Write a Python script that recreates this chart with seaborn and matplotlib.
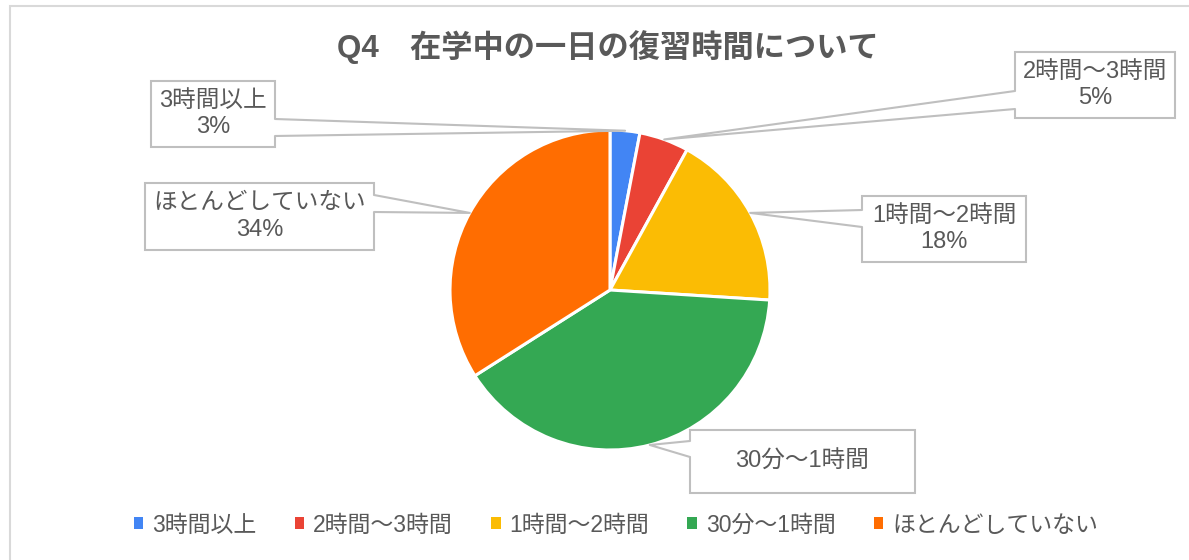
import matplotlib
matplotlib.use("Agg")
import numpy as np
import seaborn as sns
import matplotlib.pyplot as plt
from matplotlib.patches import Rectangle, Patch

sns.set_theme(style="white")
plt.rcParams['font.family'] = ['Liberation Sans', 'Noto Sans CJK JP', 'DejaVu Sans']

# data
categories = ['3時間以上', '2時間～3時間', '1時間～2時間', '30分～1時間', 'ほとんどしていない']
values = [3, 5, 18, 40, 34]
label_texts = ['3時間以上\n3%', '2時間～3時間\n5%', '1時間～2時間\n18%', '30分～1時間', 'ほとんどしていない\n34%']
colors = ['#4285F4', '#EA4335', '#FBBC04', '#34A853', '#FF6D01']
title = 'Q4\u3000在学中の一日の復習時間について'

W, H = 1189, 560
TXT = '#595959'
EDGE = '#BFBFBF'

fig = plt.figure(figsize=(W / 100, H / 100), dpi=100)
ax = fig.add_axes([0, 0, 1, 1])

def Y(y):
    return H - y

cx, cy, r = 610, 290, 160
wedges, _ = ax.pie(values, colors=colors, startangle=90, counterclock=False,
                   center=(cx, Y(cy)), radius=r, frame=True,
                   wedgeprops=dict(edgecolor='white', linewidth=2.2))
ax.set_xlim(0, W)
ax.set_ylim(0, H)
ax.set_aspect('auto')
ax.axis('off')

# outer chart frame
ax.add_patch(Rectangle((10, Y(H + 20)), W + 20, H + 14, fill=False, ec='#D9D9D9', lw=1.5, zorder=0))

# callout boxes: (left, top, right, bottom), pointer base side and y range
boxes = [
    ((151, 81, 275, 147), 'right', (119, 136)),
    ((1015, 52, 1175, 118), 'left', (91, 109)),
    ((862, 196, 1026, 262), 'left', (210, 227)),
    ((690, 430, 915, 493), 'left', (441, 457)),
    ((145, 183, 374, 250), 'right', (195, 212)),
]

cum = np.cumsum([0] + values)
total = sum(values)
for i, ((l, t, rr, b), side, (b1, b2)) in enumerate(boxes):
    mid = (cum[i] + cum[i + 1]) / 2 / total * 2 * np.pi
    tx = cx + r * np.sin(mid)
    ty = cy - r * np.cos(mid)
    ax.add_patch(Rectangle((l, Y(b)), rr - l, b - t, fc='white', ec=EDGE, lw=1.5, zorder=3))
    ex = rr if side == 'right' else l
    inner = ex - 2 if side == 'right' else ex + 2
    ax.fill([inner, tx, inner], [Y(b1), Y(ty), Y(b2)], color='white', zorder=4, lw=0)
    ax.plot([ex, tx, ex], [Y(b1), Y(ty), Y(b2)], color=EDGE, lw=1.5, zorder=4)
    ax.text((l + rr) / 2, Y((t + b) / 2), label_texts[i], ha='center', va='center',
            fontsize=17, color=TXT, linespacing=1.28, zorder=5)

fig.text(608 / W, 1 - 47 / H, title, ha='center', va='center', fontsize=22.5,
         fontweight='bold', color=TXT)

handles = [Patch(facecolor=c, edgecolor='none') for c in colors]
fig.legend(handles, categories, loc='center', bbox_to_anchor=(616 / W, 1 - 525 / H),
           ncol=5, frameon=False, fontsize=16.5, labelcolor=TXT,
           handlelength=0.42, handleheight=0.42, handletextpad=0.4, columnspacing=1.65)

plt.savefig('out.png', dpi=100)
